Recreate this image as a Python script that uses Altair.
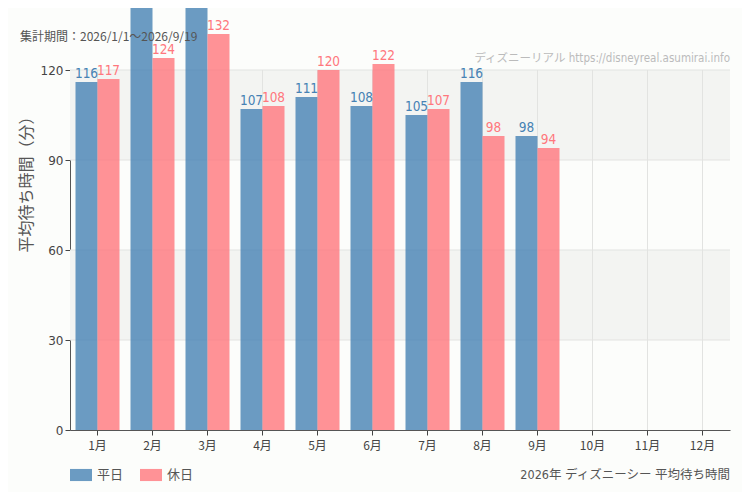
import pandas as pd
import altair as alt

# Monthly average waiting time (minutes), Tokyo DisneySea 2026
months = ["1月", "2月", "3月", "4月", "5月", "6月",
          "7月", "8月", "9月", "10月", "11月", "12月"]
weekday = [116, 146, 150, 107, 111, 108, 105, 116, 98, None, None, None]
holiday = [117, 124, 132, 108, 120, 122, 107, 98, 94, None, None, None]
series = ["平日", "休日"]
colors = ["#4682b4", "#ff777d"]

y_ticks = [0, 30, 60, 90, 120]
band_lo = [30, 90]
band_hi = [60, 120]

period_text = "集計期間：2026/1/1～2026/9/19"
source_text = "ディズニーリアル https://disneyreal.asumirai.info"
footer_text = "2026年 ディズニーシー 平均待ち時間"

NARROW = "DejaVu Sans Condensed, Noto Sans CJK JP, sans-serif"
CJK = "Noto Sans CJK JP, sans-serif"

df = pd.DataFrame({"month": months, "平日": weekday, "休日": holiday})
long = df.melt(id_vars="month", value_vars=series,
               var_name="series", value_name="value").dropna()

x_scale = alt.Scale(domain=months, paddingInner=0.2, paddingOuter=0.1)
y_scale = alt.Scale(domain=[0, 120], nice=False, clamp=False)

# Shared axes, so that every layer agrees:
x_axis = alt.Axis(labelAngle=0, labelFontSize=12, labelColor="#444",
                  labelFont=CJK, labelPadding=5, tickSize=5,
                  tickColor="#444", domainColor="#555", grid=False,
                  title=None)
y_axis = alt.Axis(values=y_ticks, grid=False, labelFontSize=12,
                  labelColor="#444", labelFont="DejaVu Sans",
                  tickSize=5, tickColor="#444", domainColor="#555",
                  title="平均待ち時間（分）",
                  titleFont=CJK, titleFontSize=16,
                  titleFontWeight="normal", titleColor="#555",
                  titleAngle=-90, titleX=-44, titleY=110,
                  titleAlign="center", titleBaseline="middle")


def x_enc():
    return alt.X("month:N", sort=months, scale=x_scale, axis=x_axis)


def y_enc(field):
    return alt.Y(f"{field}:Q", scale=y_scale, axis=y_axis)


# Background bands:
bands = alt.Chart(pd.DataFrame({"lo": band_lo, "hi": band_hi})).mark_rect(
    color="#f3f4f2").encode(y=y_enc("lo"), y2="hi:Q")

# Grid lines:
hgrid = alt.Chart(pd.DataFrame({"lo": y_ticks[1:]})).mark_rule(
    color="#e2e3e1", strokeWidth=1).encode(y=y_enc("lo"))
vgrid = alt.Chart(pd.DataFrame({"month": months})).mark_rule(
    color="#e2e3e1", strokeWidth=1).encode(x=x_enc())

# Bars:
bars = alt.Chart(long).mark_bar(opacity=0.8, clip=False).encode(
    x=x_enc(),
    xOffset=alt.XOffset("series:N", sort=series,
                        scale=alt.Scale(paddingInner=0, paddingOuter=0)),
    y=y_enc("value"),
    color=alt.Color("series:N", sort=series,
                    scale=alt.Scale(domain=series, range=colors),
                    legend=alt.Legend(title=None, orient="none",
                                      direction="horizontal",
                                      legendX=0, legendY=394,
                                      symbolType="M-1,-0.55H1V0.55H-1Z",
                                      symbolSize=484, symbolOpacity=0.8,
                                      symbolStrokeWidth=0,
                                      labelFont=CJK, labelFontSize=13,
                                      labelColor="#555", labelOffset=5,
                                      columnPadding=16, padding=0)))

# Value labels:
labels = alt.Chart(long).mark_text(
    dy=-8, font=NARROW, fontSize=13.5, clip=False).encode(
        x=x_enc(),
        xOffset=alt.XOffset("series:N", sort=series),
        y=y_enc("value"),
        text=alt.Text("value:Q", format="d"),
        color=alt.Color("series:N", sort=series))

# Annotation texts:
period = alt.Chart(pd.DataFrame({"t": [period_text]})).mark_text(
    align="left", baseline="middle", font=CJK, fontSize=12,
    color="#555").encode(text="t:N", x=alt.value(-50), y=alt.value(-33))
source = alt.Chart(pd.DataFrame({"t": [source_text]})).mark_text(
    align="right", baseline="middle", font=NARROW, fontSize=11.5,
    color="#bbb").encode(text="t:N", x=alt.value(660), y=alt.value(-11))
footer = alt.Chart(pd.DataFrame({"t": [footer_text]})).mark_text(
    align="right", baseline="middle", font=NARROW, fontSize=12.5,
    color="#555").encode(text="t:N", x=alt.value(660), y=alt.value(405))

chart = (alt.layer(bands, hgrid, vgrid, bars, labels, period, source, footer)
         .properties(width=660, height=360, autosize="none",
                     padding={"left": 62, "top": 62, "right": 12, "bottom": 62},
                     background="#fcfdfb")
         .configure_view(stroke=None))

chart.save("out.html", embed_options={"renderer": "svg", "actions": False})
